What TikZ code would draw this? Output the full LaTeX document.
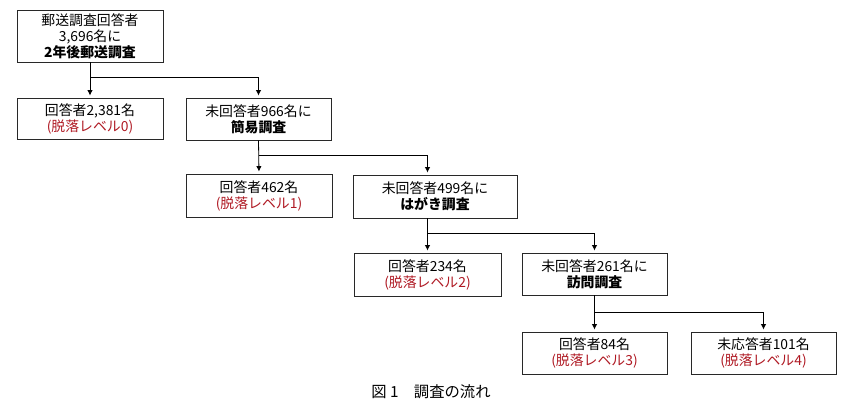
\documentclass[tikz,border=0pt]{standalone}
\usepackage{fontspec}
\setmainfont{Noto Sans CJK JP}
\usetikzlibrary{arrows.meta,calc}
\definecolor{lvred}{RGB}{175,25,35}
\definecolor{boxline}{RGB}{40,40,40}
\tikzset{
  box/.style={draw=boxline,line width=0.7pt,rectangle,align=center,inner sep=0pt,
    font=\fontsize{10.4}{12}\selectfont},
  arr/.style={line width=0.6pt,-{Latex[length=4pt,width=4pt]},shorten >=1.5pt},
  ln/.style={line width=0.6pt}
}
\newcommand{\lv}[1]{\textcolor{lvred}{(脱落レベル#1)}}
\begin{document}
\begin{tikzpicture}[x=0.75pt,y=-0.75pt]
\useasboundingbox (0,0) rectangle (851,418);
\node[box,minimum width=146*0.75pt,minimum height=52*0.75pt] (top) at (90,36) {郵送調査回答者\\3,696名に\\\textbf{2年後郵送調査}};
\node[box,minimum width=146*0.75pt,minimum height=41*0.75pt] (r0) at (90,118.5) {回答者2,381名\\\lv{0}};
\node[box,minimum width=145*0.75pt,minimum height=42*0.75pt] (n966) at (258.5,119) {未回答者966名に\\\textbf{簡易調査}};
\node[box,minimum width=146*0.75pt,minimum height=43*0.75pt] (r1) at (259,195.5) {回答者462名\\\lv{1}};
\node[box,minimum width=164*0.75pt,minimum height=43*0.75pt] (n499) at (435,196.5) {未回答者499名に\\\textbf{はがき調査}};
\node[box,minimum width=147*0.75pt,minimum height=43*0.75pt] (r2) at (427.5,274.5) {回答者234名\\\lv{2}};
\node[box,minimum width=145*0.75pt,minimum height=42*0.75pt] (n261) at (594.5,274) {未回答者261名に\\\textbf{訪問調査}};
\node[box,minimum width=145*0.75pt,minimum height=42*0.75pt] (r3) at (594.5,353) {回答者84名\\\lv{3}};
\node[box,minimum width=145*0.75pt,minimum height=42*0.75pt] (r4) at (763.5,353) {未応答者101名\\\lv{4}};
\node[font=\fontsize{11.5}{13}\selectfont] (cap) at (431,392) {図 1\hspace{1em}調査の流れ};
% connectors
\coordinate (b1) at (90,77);
\coordinate (b2) at (258.5,155);
\coordinate (b3) at (427.5,233);
\coordinate (b4) at (594.5,312);
\draw[arr] (top.south) -- (r0.north);
\draw[arr] (b1) -| (n966.north);
\draw[arr] (n966.south) -- (r1.north);
\draw[arr] (b2) -| (r2.north |- n499.north);
\draw[arr] (r2.north |- n499.south) -- (r2.north);
\draw[arr] (b3) -| (n261.north);
\draw[arr] (n261.south) -- (r3.north);
\draw[arr] (b4) -| (r4.north);
\end{tikzpicture}
\end{document}
